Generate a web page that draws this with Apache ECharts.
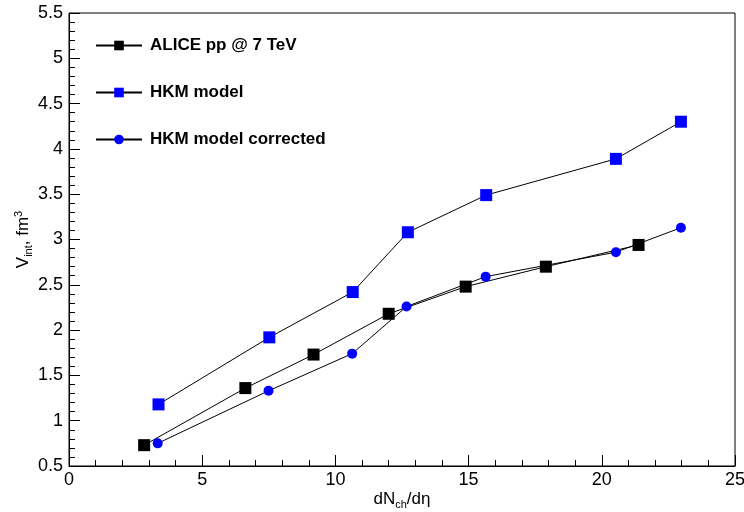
<!DOCTYPE html>
<html>
<head>
<meta charset="utf-8">
<script src="https://cdn.jsdelivr.net/npm/echarts@6/dist/echarts.min.js"></script>
<style>
  html, body { margin: 0; padding: 0; background: #fff; }
  #chart { width: 744px; height: 512px; }
</style>
</head>
<body>
<div id="chart"></div>
<script>
// ALICE pp @ 7 TeV
const aliceX = [2.82, 6.62, 9.18, 12.0, 14.89, 17.9, 21.38];
const aliceY = [0.73, 1.36, 1.73, 2.18, 2.48, 2.70, 2.94];
// HKM model
const hkmX = [3.36, 7.52, 10.65, 12.72, 15.66, 20.53, 22.97];
const hkmY = [1.18, 1.92, 2.42, 3.08, 3.49, 3.89, 4.30];
// HKM model corrected
const corrX = [3.33, 7.49, 10.63, 12.67, 15.64, 20.53, 22.97];
const corrY = [0.75, 1.33, 1.74, 2.26, 2.59, 2.86, 3.13];

const seriesNames = ['ALICE pp @ 7 TeV', 'HKM model', 'HKM model corrected'];

function pairs(xs, ys) {
  return xs.map((x, i) => [x, ys[i]]);
}

const font = 'Liberation Sans, Arial, sans-serif';
const nameRich = {
  n: { fontSize: 17, fontFamily: font, color: '#000' },
  s: { fontSize: 11, fontFamily: font, color: '#000', padding: [10, 0, 0, 0] },
  p: { fontSize: 11, fontFamily: font, color: '#000', padding: [0, 0, 10, 0] }
};

const chart = echarts.init(document.getElementById('chart'));
chart.setOption({
  animation: false,
  backgroundColor: '#fff',
  grid: {
    left: 69, right: 9, top: 13, bottom: 46,
    outerBoundsMode: 'none', containLabel: false,
    show: true, borderColor: '#000', borderWidth: 1, backgroundColor: 'transparent'
  },
  legend: {
    orient: 'vertical',
    left: 90, top: 32,
    itemWidth: 46, itemHeight: 12, itemGap: 30,
    textStyle: { fontFamily: font, fontWeight: 'bold', fontSize: 17, color: '#000', padding: [0, 0, 0, 3] },
    data: seriesNames
  },
  xAxis: {
    type: 'value', min: 0, max: 25, interval: 5,
    name: '{n|dN}{s|ch}{n|/dη}',
    nameLocation: 'middle', nameGap: 23, nameMoveOverlap: false,
    nameTextStyle: { rich: nameRich },
    axisLine: { lineStyle: { color: '#000', width: 1 } },
    axisTick: { inside: true, length: 11, lineStyle: { color: '#000' } },
    minorTick: { show: true, splitNumber: 5, length: 6, lineStyle: { color: '#000' } },
    axisLabel: { fontFamily: font, fontSize: 18, color: '#000', margin: 5 },
    splitLine: { show: false }
  },
  yAxis: {
    type: 'value', min: 0.5, max: 5.5, interval: 0.5,
    name: '{n|V}{s|int}{n|, fm}{p|3}',
    nameLocation: 'middle', nameGap: 35, nameMoveOverlap: false,
    nameTextStyle: { rich: nameRich },
    axisLine: { show: true, lineStyle: { color: '#000', width: 1 } },
    axisTick: { show: true, inside: true, length: 11, lineStyle: { color: '#000' } },
    minorTick: { show: true, splitNumber: 5, length: 6, lineStyle: { color: '#000' } },
    axisLabel: { fontFamily: font, fontSize: 18, color: '#000', margin: 6 },
    splitLine: { show: false }
  },
  series: [
    {
      name: seriesNames[0], type: 'line', data: pairs(aliceX, aliceY),
      symbol: 'rect', symbolSize: 12,
      itemStyle: { color: '#000' },
      lineStyle: { color: '#000', width: 1 }
    },
    {
      name: seriesNames[1], type: 'line', data: pairs(hkmX, hkmY),
      symbol: 'rect', symbolSize: 12,
      itemStyle: { color: '#0000ff' },
      lineStyle: { color: '#000', width: 1 }
    },
    {
      name: seriesNames[2], type: 'line', data: pairs(corrX, corrY),
      symbol: 'circle', symbolSize: 10,
      itemStyle: { color: '#0000ff' },
      lineStyle: { color: '#000', width: 1 }
    }
  ]
});
</script>
</body>
</html>
